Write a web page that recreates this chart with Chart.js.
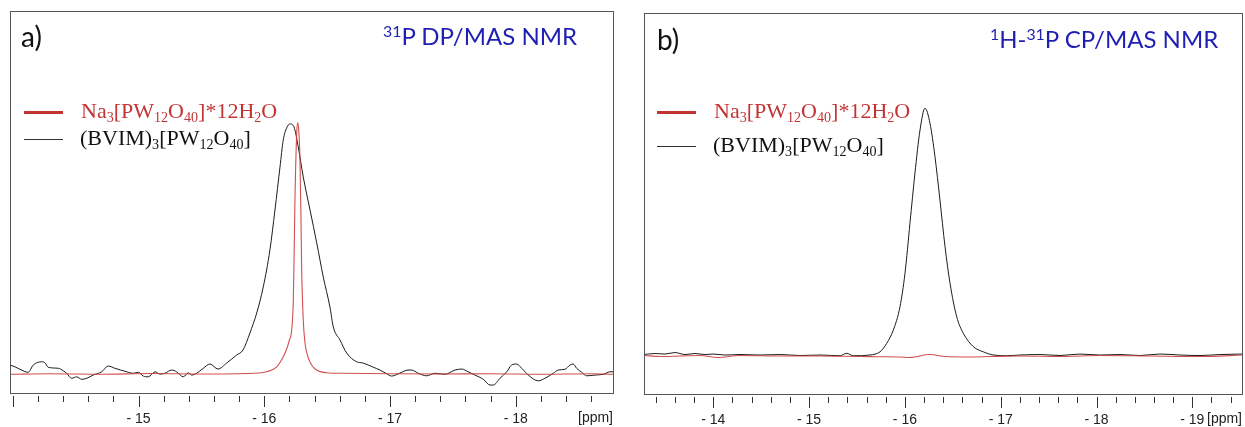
<!DOCTYPE html>
<html>
<head>
<meta charset="utf-8">
<script src="https://cdn.jsdelivr.net/npm/chart.js@4.4.1/dist/chart.umd.min.js"></script>
<style>
  html, body { margin:0; padding:0; background:#fff; }
  body { width:1245px; height:427px; position:relative; overflow:hidden; }
  .cv { position:absolute; top:0; }
  .txt { position:absolute; white-space:nowrap; line-height:1; }
  .ttl { font-family: Lato, "Open Sans", sans-serif; }
  .ttl sup { font-size:0.66em; vertical-align:0.5em; line-height:0; }
  .leg { font-family: "Liberation Serif", "DejaVu Serif", serif; }
  .leg sub { font-size:0.64em; vertical-align:-0.28em; line-height:0; }
  .swatch { position:absolute; }
</style>
</head>
<body>
<canvas id="ca" class="cv" width="625" height="427" style="left:0px;width:625px;height:427px"></canvas>
<canvas id="cb" class="cv" width="620" height="427" style="left:625px;width:620px;height:427px"></canvas>

<!-- panel a texts -->
<div class="txt ttl" style="left:21px;top:22px;font-size:28px;color:#111">a)</div>
<div class="txt ttl" style="left:383px;top:24px;font-size:24px;color:#1f1fb4"><sup>31</sup>P DP/MAS NMR</div>
<div class="swatch" style="left:24px;top:111px;width:39px;height:2.5px;background:#c23434"></div>
<div class="txt leg" style="left:81px;top:99.5px;font-size:22px;color:#c23434">Na<sub>3</sub>[PW<sub>12</sub>O<sub>40</sub>]*12H<sub>2</sub>O</div>
<div class="swatch" style="left:24px;top:139px;width:39px;height:1px;background:#333"></div>
<div class="txt leg" style="left:80px;top:126.5px;font-size:22px;color:#111">(BVIM)<sub>3</sub>[PW<sub>12</sub>O<sub>40</sub>]</div>

<!-- panel b texts -->
<div class="txt ttl" style="left:657px;top:25px;font-size:28px;color:#111">b)</div>
<div class="txt ttl" style="left:990px;top:27px;font-size:24px;color:#1f1fb4"><sup>1</sup>H-<sup>31</sup>P CP/MAS NMR</div>
<div class="swatch" style="left:657px;top:111px;width:39px;height:2.5px;background:#c23434"></div>
<div class="txt leg" style="left:714px;top:99.5px;font-size:22px;color:#c23434">Na<sub>3</sub>[PW<sub>12</sub>O<sub>40</sub>]*12H<sub>2</sub>O</div>
<div class="swatch" style="left:657px;top:146px;width:39px;height:1px;background:#333"></div>
<div class="txt leg" style="left:713px;top:133.5px;font-size:22px;color:#111">(BVIM)<sub>3</sub>[PW<sub>12</sub>O<sub>40</sub>]</div>

<script>
// ---------------- DATA ----------------
// Panel a: 31P DP/MAS NMR  (chemical shift in ppm, intensity normalised so BVIM peak = 100)
const dpBvimPpm = [-13.978,-14.017,-14.057,-14.123,-14.163,-14.230,-14.256,-14.282,-14.362,-14.402,-14.429,-14.468,-14.508,-14.548,-14.588,-14.640,-14.707,-14.759,-14.813,-14.906,-14.958,-14.998,-15.038,-15.078,-15.131,-15.171,-15.210,-15.264,-15.303,-15.356,-15.396,-15.423,-15.462,-15.515,-15.568,-15.632,-15.701,-15.780,-15.831,-15.886,-15.940,-15.992,-16.045,-16.085,-16.125,-16.151,-16.178,-16.204,-16.236,-16.270,-16.310,-16.364,-16.417,-16.469,-16.522,-16.549,-16.602,-16.655,-16.735,-16.785,-16.864,-16.920,-16.970,-17.013,-17.079,-17.143,-17.172,-17.225,-17.291,-17.357,-17.437,-17.517,-17.570,-17.622,-17.675,-17.742,-17.795,-17.821,-17.874,-17.928,-17.967,-18.007,-18.047,-18.099,-18.179,-18.232,-18.298,-18.338,-18.391,-18.431,-18.457,-18.484,-18.524,-18.564,-18.630,-18.696,-18.749,-18.781];
const dpBvimInt = [3.7,3.0,2.0,0.8,3.7,5.0,4.6,2.8,2.4,1.4,0.4,-1.6,-1.0,-2.0,-1.6,-0.3,1.0,3.3,2.4,1.0,0.4,0.8,-0.7,-1.0,1.0,0.1,0.4,1.7,1.0,-1.0,0.6,-0.3,0.4,2.4,4.1,2.1,4.5,7.7,9.7,16.5,24.5,34.9,49.7,65.6,82.8,93.6,98.4,100,98.8,90.8,78.8,65.6,52.5,38.9,26.9,18.9,13.7,8.5,5.0,4.5,2.9,1.7,0.3,-0.7,0.5,1.7,1.7,0.4,-0.6,0.4,0.0,1.7,2.1,1.0,-0.3,-2.0,-4.3,-4.3,-1.6,1.0,3.7,4.1,2.4,-0.3,-2.6,-1.6,0.4,1.7,2.0,3.7,4.1,2.4,0.8,-0.6,-0.3,0.0,1.0,1.0];
const dpNaPpm = [-13.978,-14.300,-14.700,-15.100,-15.500,-15.913,-16.019,-16.099,-16.151,-16.181,-16.200,-16.218,-16.231,-16.238,-16.244,-16.258,-16.266,-16.274,-16.284,-16.292,-16.297,-16.310,-16.324,-16.337,-16.363,-16.404,-16.496,-16.602,-17.000,-17.400,-17.800,-18.200,-18.600,-18.781];
const dpNaInt = [0.0,0.2,0.0,0.3,0.1,0.4,1.0,3.0,7.0,10.5,13.7,17.7,29.7,49.7,69.6,96.4,100.5,97.6,85.6,61.6,42.9,21.7,12.5,8.9,4.9,2.1,0.6,0.4,0.2,0.1,0.2,0.0,0.2,0.0];

// Panel b: 1H-31P CP/MAS NMR
const cpBvimPpm = [-13.277,-13.391,-13.496,-13.600,-13.705,-13.809,-13.913,-13.997,-14.122,-14.279,-14.487,-14.696,-14.905,-15.114,-15.322,-15.392,-15.461,-15.636,-15.740,-15.810,-15.879,-15.949,-16.001,-16.053,-16.105,-16.158,-16.210,-16.262,-16.314,-16.366,-16.419,-16.471,-16.541,-16.610,-16.714,-16.818,-16.923,-17.063,-17.201,-17.410,-17.619,-17.827,-18.036,-18.245,-18.454,-18.662,-18.871,-19.080,-19.289,-19.529];
const cpBvimInt = [0.2,0.6,0.4,1.0,0.2,0.6,0.2,0.4,0.0,0.2,0.0,0.2,-0.2,0.0,-0.3,0.7,-0.3,0.0,1.3,4.7,10.1,19.6,33.1,53.4,73.7,91.2,100,93.9,80.4,62.8,43.9,29.1,15.5,8.8,3.4,1.3,0.0,-0.3,0.0,0.2,-0.2,0.4,0.0,0.2,-0.2,0.4,0.0,-0.2,0.2,0.4];
const cpNaPpm = [-13.277,-13.444,-13.652,-13.861,-14.049,-14.279,-14.696,-15.114,-15.531,-15.740,-15.949,-16.053,-16.262,-16.419,-16.680,-16.889,-17.201,-17.619,-18.036,-18.558,-19.080,-19.529];
const cpNaInt = [-0.2,-0.6,-0.4,-0.2,-1.0,-0.2,-0.4,-0.4,-0.6,-0.7,-0.8,-1.0,0.2,-0.6,-0.8,-0.6,-0.4,-0.6,-0.2,-0.4,-0.6,0.0];

// Axis ranges and labelled ticks
const dpRange = { xMin: -18.781, xMax: -13.978, yMin: -7.87, yMax: 145.1 };
const cpRange = { xMin: -19.529, xMax: -13.277, yMin: -16.2, yMax: 138.6 };
const dpTickLabels = [-15, -16, -17, -18];
const cpTickLabels = [-14, -15, -16, -17, -18, -19];
const minorStep = 0.2;

// ---------------- CHART ----------------
const pts = (xs, ys) => xs.map((x, i) => ({ x, y: ys[i] }));

const framePlugin = {
  id: 'frame',
  afterDraw(chart) {
    const { ctx, chartArea: a, scales: { x } } = chart;
    ctx.save();
    ctx.strokeStyle = '#555';
    ctx.lineWidth = 1;
    ctx.strokeRect(Math.round(a.left) + 0.5, Math.round(a.top) + 0.5,
                   Math.round(a.right - a.left) - 1, Math.round(a.bottom - a.top) - 1);
    ctx.strokeStyle = '#333';
    x.ticks.forEach(t => {
      const px = Math.round(x.getPixelForValue(t.value)) + 0.5;
      const major = Math.abs(t.value - Math.round(t.value)) < 1e-6;
      ctx.beginPath();
      ctx.moveTo(px, a.bottom + 2);
      ctx.lineTo(px, a.bottom + (major ? 13 : 8));
      ctx.stroke();
    });
    ctx.font = '14px "Liberation Sans", Arial, sans-serif';
    ctx.fillStyle = '#222';
    ctx.textAlign = 'right';
    ctx.textBaseline = 'top';
    ctx.fillText('[ppm]', a.right - 1, a.bottom + 17);
    ctx.restore();
  }
};

function makeChart(id, blackPts, redPts, range, labels, pad, axisH) {
  return new Chart(document.getElementById(id), {
    type: 'line',
    data: {
      datasets: [
        { label: 'Na3[PW12O40]*12H2O', data: redPts, borderColor: 'rgba(205,60,60,0.9)', borderWidth: 1.1 },
        { label: '(BVIM)3[PW12O40]', data: blackPts, borderColor: '#1c1c1c', borderWidth: 1 }
      ]
    },
    options: {
      responsive: false,
      animation: false,
      parsing: true,
      layout: { padding: pad },
      elements: { point: { radius: 0 }, line: { cubicInterpolationMode: 'monotone', tension: 0.3 } },
      plugins: { legend: { display: false }, tooltip: { enabled: false } },
      scales: {
        x: {
          type: 'linear', reverse: true, min: range.xMin, max: range.xMax,
          afterBuildTicks: s => {
            const t = [];
            for (let k = Math.ceil(range.xMin / minorStep - 1e-9); k <= Math.floor(range.xMax / minorStep + 1e-9); k++) {
              t.push({ value: +(k * minorStep).toFixed(4) });
            }
            s.ticks = t;
          },
          afterFit: s => { s.height = axisH; },
          border: { display: false },
          grid: { display: true, drawOnChartArea: false, drawTicks: true, tickLength: 14, tickColor: 'rgba(0,0,0,0)' },
          ticks: {
            autoSkip: false, maxRotation: 0, minRotation: 0, padding: 3,
            color: '#222', font: { family: '"Liberation Sans", Arial, sans-serif', size: 14 },
            callback: v => {
              const r = Math.round(v);
              return (Math.abs(v - r) < 1e-6 && labels.includes(r)) ? '- ' + Math.abs(r) : '';
            }
          }
        },
        y: { display: false, min: range.yMin, max: range.yMax }
      }
    },
    plugins: [framePlugin]
  });
}

makeChart('ca', pts(dpBvimPpm, dpBvimInt), pts(dpNaPpm, dpNaInt), dpRange, dpTickLabels,
          { left: 10, right: 11, top: 11, bottom: 0 }, 33);
makeChart('cb', pts(cpBvimPpm, cpBvimInt), pts(cpNaPpm, cpNaInt), cpRange, cpTickLabels,
          { left: 19, right: 2, top: 13, bottom: 0 }, 32);
</script>
</body>
</html>
